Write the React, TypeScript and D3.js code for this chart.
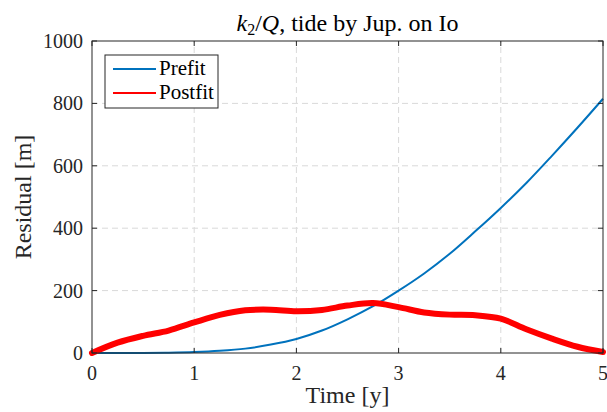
import React from "react";
import * as d3 from "d3";

const times = [0, 0.25, 0.5, 0.75, 1, 1.25, 1.5, 1.75, 2, 2.25, 2.5, 2.75, 3, 3.25, 3.5, 3.75, 4, 4.25, 4.5, 4.75, 5];
const prefit = [0, 0, 0, 1, 3, 7, 14, 27, 45, 72, 108, 150, 200, 255, 318, 390, 465, 545, 632, 722, 815];
const postfit = [0, 33, 55, 72, 98, 122, 137, 139, 134, 138, 152, 160, 147, 130, 123, 121, 110, 76, 46, 20, 3];
const xTicks = [0, 1, 2, 3, 4, 5];
const yTicks = [0, 200, 400, 600, 800, 1000];
const seriesNames = ["Prefit", "Postfit"];

const W = 607, H = 412;
const M = { left: 92, right: 4, top: 41, bottom: 59 };
const FONT = "'Liberation Serif', 'Times New Roman', serif";

export default function App() {
  const x = d3.scaleLinear().domain([0, 5]).range([M.left, W - M.right]);
  const y = d3.scaleLinear().domain([0, 1000]).range([H - M.bottom, M.top]);
  const line = d3
    .line<number>()
    .x((_, i) => x(times[i]))
    .y((d) => y(d))
    .curve(d3.curveCatmullRom.alpha(0.5));
  const x0 = x(0), x1 = x(5), y0 = y(0), y1 = y(1000);
  const axisColor = "#262626";
  const tick = 5;
  return (
    <svg width={W} height={H} style={{ position: "absolute", left: 0, top: 0, background: "#fff" }} fontFamily={FONT}>
      <rect x={0} y={0} width={W} height={H} fill="#fff" />
      {/* grid */}
      {xTicks.slice(1, -1).map((t) => (
        <line key={"gx" + t} x1={x(t)} x2={x(t)} y1={y0} y2={y1} stroke="#d9d9d9" strokeDasharray="6,4" strokeWidth={1} />
      ))}
      {yTicks.slice(1, -1).map((t) => (
        <line key={"gy" + t} x1={x0} x2={x1} y1={y(t)} y2={y(t)} stroke="#d9d9d9" strokeDasharray="6,4" strokeWidth={1} />
      ))}
      {/* data */}
      <path d={line(prefit) || ""} fill="none" stroke="#0072BD" strokeWidth={2} />
      <path d={line(postfit) || ""} fill="none" stroke="#FF0000" strokeWidth={6} strokeLinejoin="round" strokeLinecap="round" />
      {/* box */}
      <rect x={x0} y={y1} width={x1 - x0} height={y0 - y1} fill="none" stroke={axisColor} strokeWidth={1} />
      {/* ticks */}
      {xTicks.map((t) => (
        <g key={"tx" + t}>
          <line x1={x(t)} x2={x(t)} y1={y0} y2={y0 - tick} stroke={axisColor} />
          <line x1={x(t)} x2={x(t)} y1={y1} y2={y1 + tick} stroke={axisColor} />
          <text x={x(t)} y={y0 + 27} textAnchor="middle" fontSize={20} fill={axisColor}>{t}</text>
        </g>
      ))}
      {yTicks.map((t) => (
        <g key={"ty" + t}>
          <line x1={x0} x2={x0 + tick} y1={y(t)} y2={y(t)} stroke={axisColor} />
          <line x1={x1} x2={x1 - tick} y1={y(t)} y2={y(t)} stroke={axisColor} />
          <text x={x0 - 9} y={y(t) + 7} textAnchor="end" fontSize={20} fill={axisColor}>{t}</text>
        </g>
      ))}
      {/* title */}
      <text x={(x0 + x1) / 2} y={31} textAnchor="middle" fontSize={24} fill="#000">
        <tspan fontStyle="italic">k</tspan>
        <tspan fontSize={16} dy={4}>2</tspan>
        <tspan dy={-4}>/</tspan>
        <tspan fontStyle="italic">Q</tspan>
        <tspan>, tide by Jup. on Io</tspan>
      </text>
      {/* axis labels */}
      <text x={(x0 + x1) / 2} y={403} textAnchor="middle" fontSize={24} fill={axisColor}>Time [y]</text>
      <text transform={`translate(31, ${(y0 + y1) / 2}) rotate(-90)`} textAnchor="middle" fontSize={24} fill={axisColor}>Residual [m]</text>
      {/* legend */}
      <g>
        <rect x={105} y={55} width={113} height={53} fill="#fff" stroke={axisColor} strokeWidth={1} />
        {seriesNames.map((n, i) => (
          <g key={n}>
            <line x1={113} x2={156} y1={69 + i * 24} y2={69 + i * 24} stroke={i === 0 ? "#0072BD" : "#FF0000"} strokeWidth={2} />
            <text x={159} y={75 + i * 24} fontSize={21} fill="#000">{n}</text>
          </g>
        ))}
      </g>
    </svg>
  );
}
